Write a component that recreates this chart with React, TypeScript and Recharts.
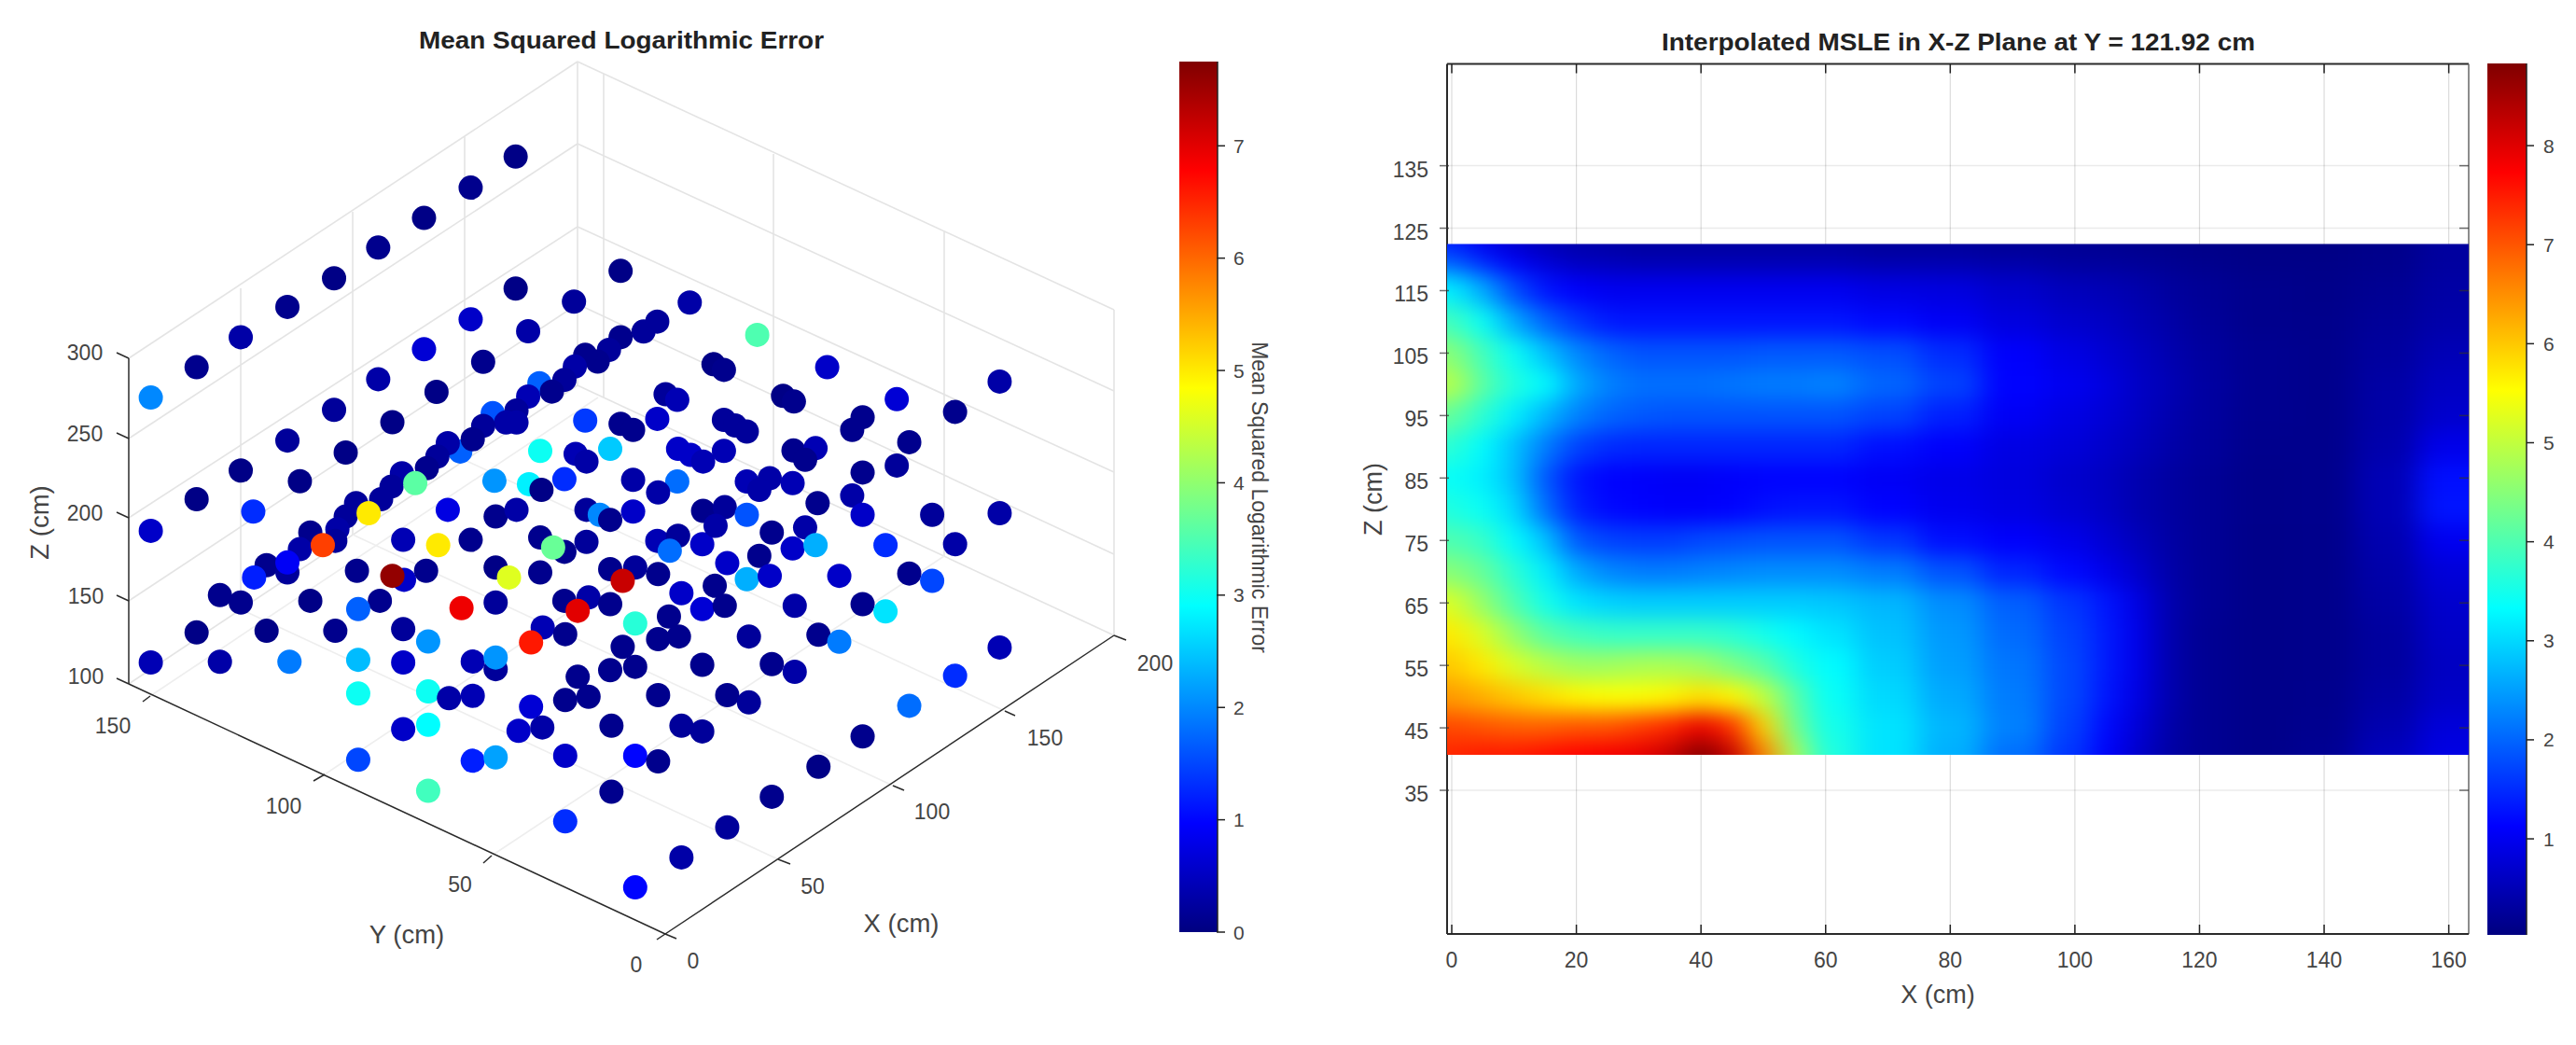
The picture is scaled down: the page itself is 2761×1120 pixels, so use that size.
import React from 'react';
import {
  ScatterChart, Scatter, XAxis, YAxis, ReferenceLine, BarChart, Bar,
} from 'recharts';

// ---------- 3D panel: points as read in the projected view, [h, v, MSLE] ----------
const viewUpperLeft = [
  [362,1193,2.0],[472,1102,.1],[578,1012,.3],[690,921,.1],[802,835,.05],[908,743,.1],[1018,654,.05],[1130,563,.1],[1238,470,.05],
  [1490,813,.05],[1378,905,.2],[1238,866,.05],[1268,994,.3],[1130,958,.55],[1160,1086,.1],[1018,1048,.65],[1048,1176,.05],[908,1138,.3],
  [942,1267,.05],[802,1230,.2],[830,1358,.05],[690,1322,.2],[720,1444,.05],[578,1412,.05],[472,1498,.05],[608,1535,1.3],
  [1295,1150,1.7],[1183,1240,1.6],[1105,1355,1.7],
  [1545,995,.2],[1490,1012,.1],[1462,1050,.2],[1435,1085,.1],[1405,1065,.1],[1380,1100,.3],[1355,1140,.2],[1325,1175,.1],
  [1268,1190,.4],[1240,1232,.2],[1215,1268,.3],[1240,1268,.3],[1160,1278,.2],[1135,1318,.1],[1075,1330,.3],[1050,1370,.2],[1025,1405,.1],
  [965,1420,.3],[940,1460,.2],[915,1498,.2],[855,1510,.2],[830,1550,.2],
  [1405,1262,1.4],[1490,1272,.1],[1520,1290,.1],[1297,1353,3.0],[1382,1362,.4],[1408,1385,.3],[1465,1347,2.5],[1520,1440,.3],
  [1187,1443,2.1],[1270,1453,2.8],[1300,1470,.05],[1355,1438,1.3],[997,1450,3.6],[1075,1530,.75],[1190,1550,.1],[1240,1530,.3],
  [1408,1530,.2],[1440,1545,2.0],[1465,1560,.1],[1520,1535,.55],[885,1540,5.0],
];
const viewUpperRight = [
  [88,908,.3],[10,965,.2],[250,1005,3.5],[145,1093,.05],[170,1110,.1],[418,1102,.55],[832,1145,.3],[30,1183,.2],[58,1200,.4],
  [312,1188,.05],[338,1205,.1],[585,1198,.65],[725,1236,.1],[503,1252,.1],[478,1290,.1],[170,1260,.2],[197,1277,.2],[225,1295,.2],
  [10,1257,.55],[615,1327,.1],[60,1347,.55],[90,1365,.55],[120,1385,.4],[170,1353,.4],[337,1352,.1],[390,1345,.4],[365,1380,.1],
  [585,1397,.2],[503,1418,.1],[58,1445,1.8],[12,1478,.3],[225,1445,.4],[280,1435,.3],[255,1470,.3],[335,1450,.4],[478,1487,.3],
  [395,1510,.1],[120,1533,.1],[172,1522,.2],[225,1545,1.6],[503,1545,.55],[670,1545,.2],[832,1540,.3],
];
const viewLowerLeft = [
  [362,25,.55],[745,30,.1],[810,20,.3],[720,80,.3],[805,55,.2],[640,128,.1],[690,150,.2],[690,120,.9],[610,165,1.2],[775,68,6.3],
  [968,52,.4],[1052,68,5],[1130,52,.1],[1297,45,.1],[1355,88,.1],[1328,75,3.7],[1408,58,.2],
  [857,145,.1],[970,172,.55],[942,160,7.6],[1023,145,.1],[1190,135,.05],[1222,165,4.6],[1297,150,.1],[1465,140,.1],[1525,135,.2],[1495,175,7.2],
  [528,218,.1],[578,240,.1],[745,235,.05],[912,235,.1],[860,260,1.7],[1108,257,6.9],[1190,240,.2],[1355,235,.1],[1413,225,.3],[1465,245,.1],[1387,265,7.0],
  [472,330,.05],[640,325,.05],[805,325,.1],[968,320,.2],[1028,357,2.1],[1303,315,.4],[1275,360,6.6],[1357,335,.1],[1525,303,3.2],[1495,373,.1],
  [362,420,.4],[528,418,.3],[695,418,1.9],[860,412,2.4],[968,420,.55],[1135,417,.4],[1190,440,.2],[1190,405,2.1],[1465,443,.1],[1525,433,.1],[1387,463,.1],
  [860,513,3],[1028,507,3],[1078,527,.3],[1135,520,.4],[1357,533,.1],[1413,523,.1],[1275,553,.65],
  [968,620,.55],[1028,607,2.9],[1245,625,.55],[1302,615,.3],[1468,610,.1],
  [860,712,1.5],[1135,715,1.2],[1190,705,2.2],[1357,700,.55],[1525,700,1.0],
  [1028,805,3.4],[1468,808,.1],[1357,897,1.3],[1525,1095,1.0],
];
const viewLowerRight = [
  [10,55,.4],[60,40,.2],[40,85,1.8],[118,65,.55],[285,30,.1],[365,15,.3],[150,10,.3],[335,78,.55],[390,68,2.3],[558,68,1.3],[725,65,.3],
  [178,122,.55],[255,100,.1],[225,170,2.3],[280,160,.55],[447,160,.55],[615,153,.1],[670,175,1.5],[12,155,.1],[148,190,.1],[68,212,.55],
  [118,260,.65],[172,250,.1],[340,250,.3],[503,245,.1],[558,267,2.7],[38,282,.1],[12,350,.1],[62,342,.1],[230,342,.2],[397,337,.1],
  [447,358,1.9],[832,375,.4],[118,427,.1],[285,425,.1],[340,448,.3],[725,460,1.3],[12,518,.1],[178,518,.1],[230,540,.2],[615,550,1.8],
  [68,610,.2],[118,627,.2],[12,717,.1],[503,642,.1],[397,733,.05],[285,823,.1],[178,915,.2],[68,1005,.3],
];

// 3D box, in the same projected view
const wallLevels = [[138,733,619,413,1194,681],[138,644,619,326,1194,594],[138,555,619,243,1194,506],[138,470,619,154,1194,419],[138,384,619,66,1194,332]];
const wallVerticals = [[258,309,258,653],[378,227,378,573],[498,146,498,493],[619,66,619,413],[647,79,647,426],[829,165,829,510],[1012,248,1012,596],[1194,332,1194,681]];
const floorLines = [[161,746,641,426],[348,830,829,510],[527,917,1012,596],[834,921,258,653],[957,842,378,573],[1077,762,498,493]];
const boxEdges = [[138,384,138,733],[138,733,713,1001],[713,1001,1194,681]];
const tickMarks3d = [
  [138,384,125,378],[138,470,125,464],[138,555,125,549],[138,644,125,638],[138,733,125,727],
  [161,746,153,752],[348,830,336,837],[527,917,518,925],[713,1001,704,1007],
  [713,1001,725,1006],[834,921,847,926],[957,842,969,847],[1077,762,1088,767],[1194,681,1207,686],
];
const zTickLabels = [['300',91,378],['250',91,465],['200',91,550],['150',92,639],['100',92,725]];
const yTickLabels = [['150',121,778],['100',304,864],['50',493,948],['0',682,1034]];
const xTickLabels = [['0',743,1030],['50',871,950],['100',999,870],['150',1120,791],['200',1238,711]];

// ---------- heat map ----------
const heatX = [0,5,10,15,20,25,30,35,40,45,50,55,60,70,80,90,100,105,110,115,120,130,140,150,160];
const heatZ = [122,120,115,110,105,100,95,90,85,80,75,70,65,60,55,50,45,41];
const row122 = [1.4,1.0,.7,.5,.4,.35,.3,.3,.3,.3,.3,.3,.3,.25,.25,.2,.2,.18,.15,.12,.1,.08,.08,.12,.3];
const row120 = [2.0,1.5,1.1,.8,.6,.55,.5,.5,.5,.5,.5,.5,.5,.45,.45,.4,.3,.28,.25,.2,.15,.1,.1,.15,.3];
const row115 = [3.2,2.6,1.8,1.3,1.1,1.0,1.0,1.0,1.0,1.0,1.0,1.0,1.0,.9,.85,.7,.55,.5,.42,.3,.22,.15,.12,.2,.35];
const row110 = [3.9,3.4,2.6,2.0,1.6,1.35,1.3,1.3,1.3,1.3,1.3,1.3,1.3,1.2,1.05,.85,.7,.62,.5,.38,.25,.15,.14,.25,.4];
const row105 = [4.5,3.9,3.4,2.8,2.3,2.0,1.85,1.85,1.85,1.85,1.9,1.9,1.9,1.8,1.5,1.1,.9,.75,.6,.45,.3,.18,.15,.3,.5];
const row100 = [4.9,4.1,3.6,3.3,2.6,2.25,2.1,2.1,2.1,2.15,2.2,2.2,2.25,2.0,1.7,1.15,1.0,.85,.65,.5,.33,.18,.15,.35,.6];
const row95 = [4.2,3.7,3.2,2.7,2.25,2.0,1.9,1.85,1.85,1.85,1.85,1.85,1.85,1.7,1.4,1.05,.9,.78,.62,.45,.3,.17,.15,.38,.7];
const row90 = [3.7,3.3,2.8,2.2,1.7,1.5,1.45,1.45,1.45,1.45,1.45,1.45,1.45,1.25,1.1,.9,.8,.68,.55,.4,.28,.15,.15,.42,.95];
const row85 = [3.4,3.2,2.8,1.9,1.3,1.15,1.1,1.05,1.05,1.1,1.15,1.15,1.15,1.05,.95,.85,.7,.6,.45,.33,.22,.13,.15,.5,1.25];
const row80 = [3.6,3.4,3.0,2.1,1.4,1.2,1.15,1.1,1.1,1.15,1.25,1.3,1.3,1.15,1.0,.9,.75,.62,.45,.33,.22,.13,.15,.5,1.3];
const row75 = [4.0,3.8,3.3,2.8,1.9,1.7,1.65,1.65,1.75,1.8,1.85,1.85,1.85,1.6,1.25,1.1,.95,.75,.55,.35,.22,.12,.14,.45,1.0];
const row70 = [4.5,4.2,3.7,3.2,2.6,2.3,2.2,2.2,2.25,2.3,2.35,2.35,2.35,2.2,1.85,1.45,1.2,.95,.7,.4,.22,.12,.14,.4,.8];
const row65 = [5.2,4.6,4.0,3.5,3.1,2.95,2.9,2.9,2.9,2.9,2.9,2.9,2.85,2.7,2.35,1.95,1.6,1.3,.9,.45,.22,.12,.14,.35,.7];
const row60 = [5.7,5.2,4.6,4.1,3.9,3.8,3.8,3.8,3.8,3.7,3.5,3.3,3.1,2.8,2.45,2.05,1.7,1.35,.95,.45,.2,.12,.14,.3,.65];
const row55 = [6.0,5.7,5.2,4.9,4.7,4.7,4.8,4.8,4.7,4.4,4.1,3.6,3.3,2.9,2.5,2.15,1.75,1.35,.95,.45,.2,.12,.14,.3,.6];
const row50 = [6.4,6.2,6.0,5.8,5.6,5.5,5.5,5.6,5.8,5.6,5.0,4.1,3.4,3.0,2.6,2.2,1.75,1.3,.9,.45,.2,.12,.15,.35,.65];
const row45 = [7.1,7.0,6.9,6.9,7.0,7.0,7.2,7.4,7.9,7.3,5.9,4.3,3.5,3.1,2.7,2.25,1.7,1.2,.8,.4,.2,.12,.16,.45,.8];
const row41 = [7.4,7.5,7.5,7.6,7.7,7.8,7.9,8.2,8.8,8.2,6.6,4.8,3.6,3.1,2.65,2.1,1.6,1.1,.7,.35,.2,.12,.2,.55,.9];
const heatRows = [row122,row120,row115,row110,row105,row100,row95,row90,row85,row80,row75,row70,row65,row60,row55,row50,row45,row41];

const heatXTicks = [0,20,40,60,80,100,120,140,160];
const heatZTicks = [35,45,55,65,75,85,95,105,115,125,135];
const barLeftTicks = [0,1,2,3,4,5,6,7];
const barRightTicks = [1,2,3,4,5,6,7,8];
const barLeftMax = 7.75;
const barRightMin = 0.03;
const barRightMax = 8.83;

// ---------- helpers ----------
const FONT = '"Liberation Sans", Arial, sans-serif';
const TEXT = '#444444';

function jet(t: number) {
  const c = Math.max(0, Math.min(1, t));
  const f = (x: number) => Math.round(255 * Math.max(0, Math.min(1, Math.min(4 * x - 0.5, -4 * x + 3.5))));
  return `rgb(${f(c - 0.25)},${f(c)},${f(c + 0.25)})`;
}
const jetStops = Array.from({ length: 33 }, (_, i) => i / 32);

const fromCrop = (rows: number[][], ox: number, oy: number, sx: number) =>
  rows.map(([a, b, m]) => ({ h: ox + a / sx, v: oy + b / 2.8, m }));
const dots = [
  ...fromCrop(viewUpperLeft, 0, 0, 2.24),
  ...fromCrop(viewUpperRight, 700, 0, 2.24),
  ...fromCrop(viewLowerLeft, 0, 560, 2.24),
  ...fromCrop(viewLowerRight, 700, 560, 2.24),
];
const labels3d = [...zTickLabels, ...yTickLabels, ...xTickLabels].map(([t, h, v]) => ({ t, h, v }));
const seg = (s: number[]) => [{ x: s[0], y: s[1] }, { x: s[2], y: s[3] }];
const wallSegs = wallLevels.flatMap((w) => [[w[0], w[1], w[2], w[3]], [w[2], w[3], w[4], w[5]]]);

const heatCells = heatRows.flatMap((row, ri) =>
  row.map((v, ci) => ({
    x: heatX[ci],
    z: heatZ[ri],
    v,
    xLo: ci === 0 ? heatX[0] - 12 : (heatX[ci - 1] + heatX[ci]) / 2,
    xHi: ci === heatX.length - 1 ? heatX[ci] + 15 : (heatX[ci] + heatX[ci + 1]) / 2,
    zHi: ri === 0 ? heatZ[0] + 10 : (heatZ[ri - 1] + heatZ[ri]) / 2,
    zLo: ri === heatZ.length - 1 ? heatZ[ri] - 10 : (heatZ[ri] + heatZ[ri + 1]) / 2,
  })),
);

const XD: [number, number] = [-0.75, 163.2];
const ZD: [number, number] = [12, 151.3];
const kx = 1095 / (XD[1] - XD[0]);
const kz = 932.5 / (ZD[1] - ZD[0]);

const HeatCell = (p: any) => {
  const d = p.payload;
  const x = p.cx - (d.x - d.xLo) * kx;
  const y = p.cy - (d.zHi - d.z) * kz;
  return (
    <rect x={x} y={y} width={(d.xHi - d.xLo) * kx + 0.6} height={(d.zHi - d.zLo) * kz + 0.6}
      fill={jet((d.v - barRightMin) / (barRightMax - barRightMin))} />
  );
};
const Dot3d = (p: any) => <circle cx={p.cx} cy={p.cy} r={13} fill={jet(p.payload.m / barLeftMax)} />;
const TickLabel3d = (p: any) => (
  <text x={p.cx} y={p.cy} textAnchor="middle" dominantBaseline="central" fontFamily={FONT} fontSize={23} fill={TEXT}>
    {p.payload.t}
  </text>
);

const barTick = (inward: number, gap: number) => (p: any) => (
  <g>
    <line x1={p.x - inward} x2={p.x} y1={p.y} y2={p.y} stroke="#222" strokeWidth={1.5} />
    <text x={p.x + gap} y={p.y} dominantBaseline="central" fontFamily={FONT} fontSize={21} fill={TEXT}>
      {p.payload.value}
    </text>
  </g>
);

const Gradient = ({ id }: { id: string }) => (
  <defs>
    <linearGradient id={id} x1="0" y1="1" x2="0" y2="0">
      {jetStops.map((s) => <stop key={s} offset={s} stopColor={jet(s)} />)}
    </linearGradient>
  </defs>
);

const PLOT_TOP = 68.5;
const PLOT_BOTTOM = 1001;

const XHeatTick = (p: any) => (
  <g>
    <line x1={p.x} x2={p.x} y1={PLOT_BOTTOM} y2={PLOT_BOTTOM - 10} stroke="#222" strokeWidth={1.5} />
    <line x1={p.x} x2={p.x} y1={PLOT_TOP} y2={PLOT_TOP + 10} stroke="#222" strokeWidth={1.5} />
    <text x={p.x} y={PLOT_BOTTOM + 28} textAnchor="middle" dominantBaseline="central" fontFamily={FONT} fontSize={23} fill={TEXT}>
      {p.payload.value}
    </text>
  </g>
);
const ZHeatTick = (p: any) => (
  <g>
    <line x1={p.x} x2={p.x + 10} y1={p.y} y2={p.y} stroke="#333" strokeWidth={1.5} opacity={0.7} />
    <line x1={1206} x2={1196} y1={p.y} y2={p.y} stroke="#333" strokeWidth={1.5} opacity={0.7} />
    <text x={p.x - 12} y={p.y + 4} textAnchor="end" dominantBaseline="central" fontFamily={FONT} fontSize={23} fill={TEXT}>
      {p.payload.value}
    </text>
  </g>
);

export default function App() {
  return (
    <div style={{ position: 'absolute', left: 0, top: 0, width: 2761, height: 1120, background: '#fff', overflow: 'hidden' }}>
      {/* 3D scatter */}
      <div style={{ position: 'absolute', left: 0, top: 0 }}>
        <ScatterChart width={1264} height={1120} margin={{ top: 0, right: 0, bottom: 0, left: 0 }}>
          <XAxis type="number" dataKey="h" domain={[0, 1264]} hide />
          <YAxis type="number" dataKey="v" domain={[0, 1120]} reversed hide />
          <text x={666} y={43} textAnchor="middle" dominantBaseline="central" fontFamily={FONT} fontSize={26} fontWeight="bold" fill="#222"
            textLength={434} lengthAdjust="spacingAndGlyphs">
            Mean Squared Logarithmic Error
          </text>
          <text transform="translate(42 560) rotate(-90)" textAnchor="middle" dominantBaseline="central" fontFamily={FONT} fontSize={27.5} fill={TEXT}>
            Z (cm)
          </text>
          <text x={436} y={1001} textAnchor="middle" dominantBaseline="central" fontFamily={FONT} fontSize={27.5} fill={TEXT}>Y (cm)</text>
          <text x={966} y={989} textAnchor="middle" dominantBaseline="central" fontFamily={FONT} fontSize={27.5} fill={TEXT}>X (cm)</text>
          {[...wallSegs, ...wallVerticals].map((s, i) => (
            <ReferenceLine key={`g${i}`} segment={seg(s)} stroke="#e4e4e4" strokeWidth={1.6} />
          ))}
          {floorLines.map((s, i) => (
            <ReferenceLine key={`f${i}`} segment={seg(s)} stroke="#eeeeee" strokeWidth={1.6} />
          ))}
          {[...boxEdges, ...tickMarks3d].map((s, i) => (
            <ReferenceLine key={`e${i}`} segment={seg(s)} stroke="#2a2a2a" strokeWidth={1.5} />
          ))}
          <Scatter data={dots} isAnimationActive={false} shape={Dot3d} />
          <Scatter data={labels3d} isAnimationActive={false} shape={TickLabel3d} />
        </ScatterChart>
      </div>

      {/* left colour bar */}
      <div style={{ position: 'absolute', left: 1264, top: 0 }}>
        <BarChart width={120} height={1120} data={[{ k: 'msle', v: barLeftMax }]} margin={{ top: 66, right: 0, bottom: 121, left: 0 }} barCategoryGap={0}>
          <Gradient id="jetLeft" />
          <XAxis dataKey="k" hide />
          <YAxis orientation="right" width={79} domain={[0, barLeftMax]} ticks={barLeftTicks} interval={0} tickLine={false}
            axisLine={{ stroke: '#222', strokeWidth: 1.5 }} tick={barTick(9, 9)} />
          <Bar dataKey="v" fill="url(#jetLeft)" isAnimationActive={false} />
          <text transform="translate(86 533) rotate(90)" textAnchor="middle" dominantBaseline="central" fontFamily={FONT} fontSize={23} fill={TEXT}>
            Mean Squared Logarithmic Error
          </text>
        </BarChart>
      </div>

      {/* heat map */}
      <div style={{ position: 'absolute', left: 1440, top: 0 }}>
        <style>{`.heat-layer{filter:url(#heatBlur);clip-path:url(#heatClip);}`}</style>
        <ScatterChart width={1215} height={1120} margin={{ top: PLOT_TOP, right: 9, bottom: 0, left: 0 }}>
          <defs>
            <filter id="heatBlur" filterUnits="userSpaceOnUse" x={-100} y={0} width={1415} height={1120} colorInterpolationFilters="sRGB">
              <feGaussianBlur stdDeviation="15 11" />
            </filter>
            <clipPath id="heatClip"><rect x={111} y={261.4} width={1095} height={547.6} /></clipPath>
          </defs>
          <XAxis type="number" dataKey="x" domain={XD} ticks={heatXTicks} interval={0} height={119} tickLine={false}
            axisLine={{ stroke: '#2a2a2a', strokeWidth: 2 }} tick={XHeatTick} />
          <YAxis type="number" dataKey="z" domain={ZD} ticks={heatZTicks} interval={0} width={111} tickLine={false}
            axisLine={{ stroke: '#2a2a2a', strokeWidth: 2 }} tick={ZHeatTick} />
          <Scatter className="heat-layer" data={heatCells} isAnimationActive={false} shape={HeatCell} />
          {heatXTicks.map((t) => <ReferenceLine key={`x${t}`} x={t} stroke="#000" strokeOpacity={0.14} strokeWidth={1.2} />)}
          {heatZTicks.map((t) => <ReferenceLine key={`z${t}`} y={t} stroke="#000" strokeOpacity={0.08} strokeWidth={1.5} />)}
          <ReferenceLine y={ZD[1]} stroke="#2a2a2a" strokeWidth={2} />
          <ReferenceLine x={XD[1]} stroke="#666" strokeWidth={1.5} />
          <text x={659} y={45} textAnchor="middle" dominantBaseline="central" fontFamily={FONT} fontSize={26} fontWeight="bold" fill="#222"
            textLength={636} lengthAdjust="spacingAndGlyphs">
            Interpolated MSLE in X-Z Plane at Y = 121.92 cm
          </text>
          <text transform="translate(32 535) rotate(-90)" textAnchor="middle" dominantBaseline="central" fontFamily={FONT} fontSize={27} fill={TEXT}>
            Z (cm)
          </text>
          <text x={637} y={1066} textAnchor="middle" dominantBaseline="central" fontFamily={FONT} fontSize={27} fill={TEXT}>X (cm)</text>
        </ScatterChart>
      </div>

      {/* right colour bar */}
      <div style={{ position: 'absolute', left: 2666, top: 0 }}>
        <BarChart width={95} height={1120} data={[{ k: 'msle', v: barRightMax }]} margin={{ top: 68, right: 0, bottom: 118, left: 0 }} barCategoryGap={0}>
          <Gradient id="jetRight" />
          <XAxis dataKey="k" hide />
          <YAxis orientation="right" width={53} domain={[barRightMin, barRightMax]} ticks={barRightTicks} interval={0} tickLine={false}
            axisLine={{ stroke: '#222', strokeWidth: 1.5 }} tick={barTick(8, 10)} allowDataOverflow />
          <Bar dataKey="v" fill="url(#jetRight)" isAnimationActive={false} />
        </BarChart>
      </div>
    </div>
  );
}
